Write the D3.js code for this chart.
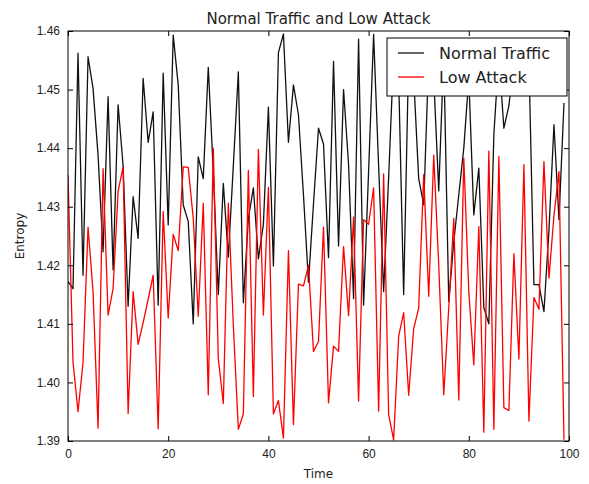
<!DOCTYPE html>
<html>
<head>
<meta charset="utf-8">
<script src="https://cdn.jsdelivr.net/npm/d3@7"></script>
<style>
  body { margin: 0; background: #fff; }
  svg { display: block; font-family: "DejaVu Sans", sans-serif; }
</style>
</head>
<body>
<svg id="chart" width="589" height="484"></svg>
<script>
// entropy readings, one per time step (0..99)
const normalTraffic = [
    1.4172, 1.4160, 1.4562, 1.4183, 1.4556, 1.4502, 1.4388, 1.4223, 1.4488, 1.4192,
    1.4474, 1.4370, 1.4130, 1.4317, 1.4246, 1.4519, 1.4410, 1.4462, 1.4132, 1.4528,
    1.4269, 1.4593, 1.4508, 1.4303, 1.4275, 1.4100, 1.4385, 1.4348, 1.4538, 1.4360,
    1.4150, 1.4340, 1.4214, 1.4370, 1.4530, 1.4136, 1.4280, 1.4332, 1.4211, 1.4270,
    1.4470, 1.4199, 1.4563, 1.4595, 1.4410, 1.4508, 1.4457, 1.4320, 1.4171, 1.4305,
    1.4434, 1.4407, 1.4213, 1.4548, 1.4233, 1.4500, 1.4372, 1.4143, 1.4586, 1.4132,
    1.4360, 1.4594, 1.4370, 1.4155, 1.4350, 1.4560, 1.4520, 1.4150, 1.4560, 1.4520,
    1.4348, 1.4303, 1.4555, 1.4520, 1.4327, 1.4560, 1.4138, 1.4240, 1.4320, 1.4400,
    1.4520, 1.4286, 1.4366, 1.4128, 1.4100, 1.4423, 1.4560, 1.4434, 1.4472, 1.4550,
    1.4550, 1.4520, 1.4550, 1.4167, 1.4167, 1.4121, 1.4260, 1.4440, 1.4278, 1.4477
];
const lowAttack = [
    1.4354, 1.4035, 1.3950, 1.4034, 1.4265, 1.4155, 1.3922, 1.4365, 1.4115, 1.4160,
    1.4326, 1.4368, 1.3947, 1.4155, 1.4065, 1.4102, 1.4142, 1.4183, 1.3921, 1.4292,
    1.4110, 1.4253, 1.4225, 1.4368, 1.4367, 1.4280, 1.4113, 1.4306, 1.3979, 1.4400,
    1.4041, 1.3964, 1.4306, 1.4098, 1.3920, 1.3946, 1.4362, 1.3976, 1.4398, 1.4115,
    1.4333, 1.3946, 1.3969, 1.3905, 1.4225, 1.3928, 1.4168, 1.4165, 1.4200, 1.4053,
    1.4070, 1.4265, 1.3965, 1.4062, 1.4053, 1.4232, 1.4114, 1.4282, 1.3968, 1.4278,
    1.4270, 1.4332, 1.3951, 1.4356, 1.3945, 1.3902, 1.4079, 1.4119, 1.3978, 1.4092,
    1.4127, 1.4355, 1.4147, 1.4388, 1.4200, 1.3979, 1.4128, 1.4280, 1.3970, 1.4383,
    1.4155, 1.4030, 1.4266, 1.3915, 1.4395, 1.3920, 1.4386, 1.3957, 1.3952, 1.4220,
    1.4040, 1.4372, 1.3934, 1.4145, 1.4125, 1.4377, 1.4178, 1.4285, 1.4360, 1.3902
];
const xTicks = [0, 20, 40, 60, 80, 100];
const yTicks = [1.39, 1.40, 1.41, 1.42, 1.43, 1.44, 1.45, 1.46];
const seriesNames = ["Normal Traffic", "Low Attack"];
const seriesColors = ["#111111", "#ff0000"];

const svg = d3.select("#chart");
const plotLeft = 68, plotRight = 569, plotTop = 31, plotBottom = 441;

const x = d3.scaleLinear().domain([0, 100]).range([plotLeft, plotRight]);
const y = d3.scaleLinear().domain([1.39, 1.46]).range([plotBottom, plotTop]);

// lines first, frame and ticks on top
const line = d3.line()
    .x((d, i) => x(i))
    .y(d => y(d));

svg.append("clipPath").attr("id", "plotclip")
    .append("rect").attr("x", plotLeft).attr("y", plotTop)
    .attr("width", plotRight - plotLeft).attr("height", plotBottom - plotTop);

const plot = svg.append("g").attr("clip-path", "url(#plotclip)");
[normalTraffic, lowAttack].forEach((vals, k) => {
    plot.append("path")
        .datum(vals)
        .attr("d", line)
        .attr("fill", "none")
        .attr("stroke", seriesColors[k])
        .attr("stroke-width", 1.3)
        .attr("stroke-linejoin", "round");
});

// axes, ticks pointing inward like classic matplotlib
const tickLen = 5;
const xAxisB = d3.axisBottom(x).tickValues(xTicks).tickSizeInner(-tickLen).tickSizeOuter(0).tickPadding(8).tickFormat(d3.format("d"));
const xAxisT = d3.axisTop(x).tickValues(xTicks).tickSizeInner(-tickLen).tickSizeOuter(0).tickFormat("");
const yAxisL = d3.axisLeft(y).tickValues(yTicks).tickSizeInner(-tickLen).tickSizeOuter(0).tickPadding(8).tickFormat(d3.format(".2f"));
const yAxisR = d3.axisRight(y).tickValues(yTicks).tickSizeInner(-tickLen).tickSizeOuter(0).tickFormat("");

function styleAxis(g) {
    g.select(".domain").remove();
    g.selectAll(".tick line").attr("stroke", "#000").attr("stroke-width", 1);
    g.selectAll(".tick text").attr("fill", "#222").style("font-size", "12px");
}
svg.append("g").attr("transform", `translate(0,${plotBottom})`).call(xAxisB).call(styleAxis);
svg.append("g").attr("transform", `translate(0,${plotTop})`).call(xAxisT).call(styleAxis);
svg.append("g").attr("transform", `translate(${plotLeft},0)`).call(yAxisL).call(styleAxis);
svg.append("g").attr("transform", `translate(${plotRight},0)`).call(yAxisR).call(styleAxis);

svg.append("rect")
    .attr("x", plotLeft).attr("y", plotTop)
    .attr("width", plotRight - plotLeft).attr("height", plotBottom - plotTop)
    .attr("fill", "none").attr("stroke", "#000").attr("stroke-width", 1);

// title + axis labels
svg.append("text").attr("x", (plotLeft + plotRight) / 2).attr("y", 24)
    .attr("text-anchor", "middle").style("font-size", "15px").attr("fill", "#222")
    .text("Normal Traffic and Low Attack");
svg.append("text").attr("x", (plotLeft + plotRight) / 2).attr("y", 478)
    .attr("text-anchor", "middle").style("font-size", "12px").attr("fill", "#222")
    .text("Time");
svg.append("text").attr("transform", `translate(24,${(plotTop + plotBottom) / 2}) rotate(-90)`)
    .attr("text-anchor", "middle").style("font-size", "12px").attr("fill", "#222")
    .text("Entropy");

// legend
const lg = svg.append("g").attr("transform", "translate(387,38)");
lg.append("rect").attr("x", 0).attr("y", 0).attr("width", 180).attr("height", 58)
    .attr("fill", "#fff").attr("stroke", "#000").attr("stroke-width", 1);
seriesNames.forEach((name, k) => {
    const cy = 15 + k * 24;
    lg.append("line").attr("x1", 11).attr("x2", 37).attr("y1", cy).attr("y2", cy)
        .attr("stroke", seriesColors[k]).attr("stroke-width", 1.3);
    lg.append("text").attr("x", 52).attr("y", cy + 6)
        .style("font-size", "16px").attr("fill", "#222").text(name);
});
</script>
</body>
</html>
